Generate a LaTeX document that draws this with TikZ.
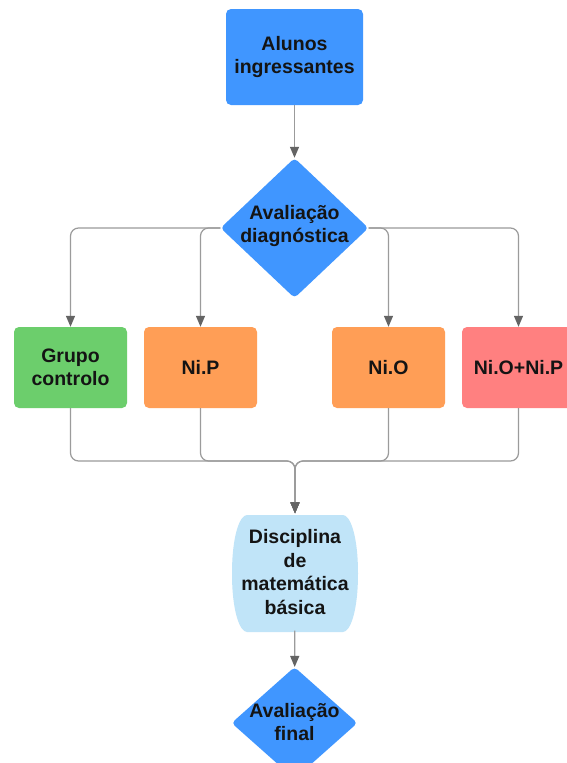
\documentclass[tikz,border=0pt]{standalone}
\usepackage{fontspec}
\setmainfont{Liberation Sans}
\usetikzlibrary{shapes.geometric,arrows.meta}
\definecolor{boxblue}{RGB}{64,150,255}
\definecolor{boxgreen}{RGB}{108,206,108}
\definecolor{boxorange}{RGB}{255,158,86}
\definecolor{boxred}{RGB}{255,128,128}
\definecolor{paleblue}{RGB}{192,228,248}
\definecolor{linegray}{RGB}{155,155,155}
\definecolor{tipgray}{RGB}{100,100,100}
\definecolor{inkblack}{RGB}{20,20,20}
\begin{document}
\begin{tikzpicture}[x=1pt,y=-1pt,
  label text/.style={font=\bfseries\fontsize{19.5}{23.5}\selectfont, text=inkblack, align=center},
  card/.style={rectangle, rounded corners=5pt, inner sep=0pt,
    minimum width=113pt, minimum height=81pt, label text},
  decision/.style={diamond, rounded corners=4pt, inner sep=0pt, fill=boxblue},
  flow/.style={draw=linegray, line width=1.2pt, rounded corners=8pt,
    -{Triangle[length=11pt,width=9pt,color=tipgray]}}
]
\useasboundingbox (0,0) rectangle (566,763);
\fill[white] (0,0) rectangle (566,763);

% start box
\node[card, fill=boxblue, minimum width=137pt, minimum height=96pt] (alunos)
  at (294.5,57) {Alunos\\ingressantes};

% diagnostic decision
\node[decision, minimum width=148pt, minimum height=140pt] (diag) at (294.5,228) {};
\node[label text] (diagtext) at (294.5,226) {Avaliação\\diagnóstica};

% groups
\node[card, fill=boxgreen]  (grupo)  at (70.5,367.5)  {Grupo\\controlo};
\node[card, fill=boxorange] (nip)    at (200.5,367.5) {Ni.P};
\node[card, fill=boxorange] (nio)    at (388.5,367.5) {Ni.O};
\node[card, fill=boxred]    (nionip) at (518.5,367.5) {Ni.O+Ni.P};

% course block with bulging sides
\fill[paleblue] (247,515) -- (343,515)
  .. controls (350,515) and (358,535) .. (358,573.5)
  .. controls (358,612) and (350,632) .. (343,632) -- (247,632)
  .. controls (240,632) and (232,612) .. (232,573.5)
  .. controls (232,535) and (240,515) .. (247,515) -- cycle;
\node[label text, inner sep=0pt, minimum width=126pt, minimum height=117pt] (disc)
  at (295,572) {Disciplina\\de\\matemática\\básica};

% final decision
\node[decision, minimum width=126pt, minimum height=112pt] (final) at (294.5,723) {};
\node[label text] (finaltext) at (294.5,722) {Avaliação\\final};

% connectors
\draw[flow] (alunos) -- (diag);
\draw[flow] (diag.west) -| (grupo.north);
\draw[flow] (diag.west) -| (nip.north);
\draw[flow] (diag.east) -| (nio.north);
\draw[flow] (diag.east) -| (nionip.north);

\coordinate (merge) at (295,461);
\draw[flow] (grupo.south)  |- (merge) -- (disc.north);
\draw[flow] (nip.south)    |- (merge) -- (disc.north);
\draw[flow] (nio.south)    |- (merge) -- (disc.north);
\draw[flow] (nionip.south) |- (merge) -- (disc.north);

\draw[flow] (disc) -- (final);
\end{tikzpicture}
\end{document}
